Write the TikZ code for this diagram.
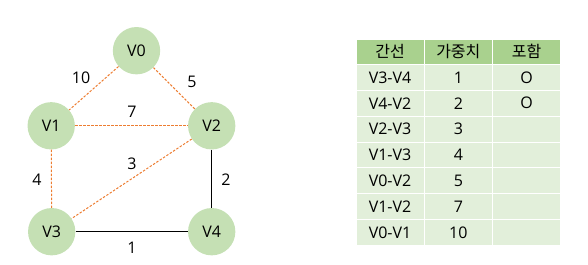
\documentclass[tikz,border=0pt]{standalone}
\usepackage{fontspec}
\setmainfont{Open Sans}
\newfontfamily\kr{Noto Sans CJK KR}
\definecolor{nodefill}{HTML}{C5E0B4}
\definecolor{hdrfill}{HTML}{A9D18E}
\definecolor{rowfill}{HTML}{E2EFDA}
\definecolor{orng}{HTML}{ED7D31}
\begin{document}
\begin{tikzpicture}[x=0.75pt,y=-0.75pt,
  vtx/.style={circle,fill=nodefill,minimum size=35.5pt,inner sep=0pt,font=\fontsize{12}{14}\selectfont},
  lbl/.style={inner sep=0pt,font=\fontsize{12}{14}\selectfont},
  cand/.style={orng,line width=0.75pt,dash pattern=on 1.8pt off 1.2pt},
  chosen/.style={black,line width=0.75pt},
  hcell/.style={fill=hdrfill,draw=white,line width=0.75pt},
  rcell/.style={fill=rowfill,draw=white,line width=0.75pt},
  ctext/.style={inner sep=0pt,font=\fontsize{12}{14}\selectfont}]
\useasboundingbox (0,0) rectangle (588,264);
% vertices
\node[vtx] (v0) at (136.5,50.7) {V0};
\node[vtx] (v1) at (51.2,125.8) {V1};
\node[vtx] (v2) at (211.7,125.8) {V2};
\node[vtx] (v3) at (51.7,231.7) {V3};
\node[vtx] (v4) at (211.7,231.7) {V4};
% edges
\draw[cand] (v0) -- (v1);
\draw[cand] (v0) -- (v2);
\draw[cand] (v1) -- (v2);
\draw[cand] (v2) -- (v3);
\draw[cand] (v1) -- (v3);
\draw[chosen] (v2) -- (v4);
\draw[chosen] (v3) -- (v4);
% weights
\node[lbl] (w10) at (81,78) {10};
\node[lbl] (w5) at (192,82) {5};
\node[lbl] (w7) at (132,112) {7};
\node[lbl] (w3) at (132,164) {3};
\node[lbl] (w4) at (37,180) {4};
\node[lbl] (w2) at (226,180) {2};
\node[lbl] (w1) at (132,248) {1};
% table
\def\xa{356}\def\xb{424}\def\xc{492.7}\def\xd{560.5}
\path[hcell] (\xa,39) rectangle (\xb,64);
\path[hcell] (\xb,39) rectangle (\xc,64);
\path[hcell] (\xc,39) rectangle (\xd,64);
\node[ctext] (h1) at ({(\xa+\xb)/2},51.5) {\kr 간선};
\node[ctext] (h2) at ({(\xb+\xc)/2},51.5) {\kr 가중치};
\node[ctext] (h3) at ({(\xc+\xd)/2},51.5) {\kr 포함};
\foreach \i/\e/\w/\c in {0/V3-V4/1/O,1/V4-V2/2/O,2/V2-V3/3/,3/V1-V3/4/,4/V0-V2/5/,5/V1-V2/7/,6/V0-V1/10/}{
  \pgfmathsetmacro{\ytop}{64.5+25.85*\i}
  \pgfmathsetmacro{\ybot}{64.5+25.85*(\i+1)}
  \pgfmathsetmacro{\ymid}{64.5+25.85*(\i+0.5)}
  \path[rcell] (\xa,\ytop) rectangle (\xb,\ybot);
  \path[rcell] (\xb,\ytop) rectangle (\xc,\ybot);
  \path[rcell] (\xc,\ytop) rectangle (\xd,\ybot);
  \node[ctext] (e\i) at ({(\xa+\xb)/2},\ymid) {\e};
  \node[ctext] (n\i) at ({(\xb+\xc)/2},\ymid) {\w};
  \node[ctext] (c\i) at ({(\xc+\xd)/2},\ymid) {\c};
}
\end{tikzpicture}
\end{document}
